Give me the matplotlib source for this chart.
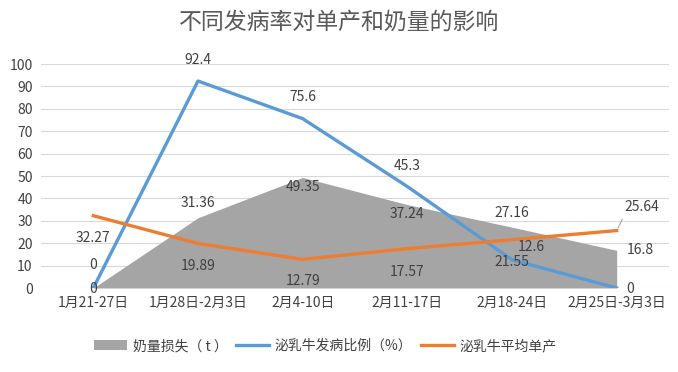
import matplotlib
matplotlib.use("Agg")
import matplotlib.pyplot as plt

plt.rcParams['font.family'] = ['Noto Sans CJK SC', 'DejaVu Sans']

categories = ["1月21-27日", "1月28日-2月3日", "2月4-10日", "2月11-17日", "2月18-24日", "2月25日-3月3日"]
milk_loss = [0, 31.36, 49.35, 37.24, 27.16, 16.8]
disease_rate = [0, 92.4, 75.6, 45.3, 12.6, 0]
avg_yield = [32.27, 19.89, 12.79, 17.57, 21.55, 25.64]
yticks = [0, 10, 20, 30, 40, 50, 60, 70, 80, 90, 100]

# label offsets in pixels (dx, dy)
loss_off = [(0, -1), (0, 15), (0, -10), (0, -9), (0, 14), (10, 0)]
rate_off = [(0, 23), (0, 21), (0, 22), (0, 21), (6, 13), (10, -1)]
yield_off = [(0, -22), (0, -23), (0, -22), (0, -23), (0, -22), (8, 24)]

GRAY = '#a5a5a5'
BLUE = '#5b9bd5'
ORANGE = '#ed7d31'
TXT = '#404040'

fig = plt.figure(figsize=(6.78, 3.72), dpi=100)
ax = fig.add_axes([41/678, 84/372, 628/678, 224/372])
x = list(range(len(categories)))

ax.fill_between(x, milk_loss, color=GRAY, lw=0, zorder=2, label='奶量损失（ t ）')
ax.plot(x, disease_rate, color=BLUE, lw=2.4, zorder=3, label='泌乳牛发病比例（%）', solid_joinstyle='round')
ax.plot(x, avg_yield, color=ORANGE, lw=2.4, zorder=4, label='泌乳牛平均单产', solid_joinstyle='round')

ax.set_xlim(-0.5, 5.5)
ax.set_ylim(0, 100)
ax.set_yticks(yticks)
ax.set_xticks(x)
ax.set_xticklabels(categories)
ax.tick_params(axis='both', length=0, labelsize=10, labelcolor=TXT)
ax.tick_params(axis='y', pad=6)
ax.tick_params(axis='x', pad=6)
for s in ax.spines.values():
    s.set_visible(False)
ax.grid(axis='y', color='#d9d9d9', lw=0.8, zorder=0)
ax.set_axisbelow(True)

def lab(vals, offs):
    for i, (v, (dx, dy)) in enumerate(zip(vals, offs)):
        ha = 'left' if dx > 3 else 'center'
        ax.annotate(f"{v:g}", (i, v), xytext=(dx if ha == 'left' else 0, dy),
                    textcoords='offset pixels', ha=ha, va='center',
                    fontsize=10, color=TXT, zorder=6)

lab(milk_loss, loss_off)
lab(disease_rate, rate_off)
lab(avg_yield, yield_off)
# leader line for last orange label
ax.annotate("", (5, avg_yield[5]), xytext=(7, 14), textcoords='offset pixels',
            arrowprops=dict(arrowstyle='-', color='#a0a0a0', lw=0.7))

fig.text(0.5, 1 - 22/372, '不同发病率对单产和奶量的影响', ha='center', va='center',
         fontsize=16.5, color='#595959')

leg = fig.legend(loc='center', bbox_to_anchor=(0.48, 26/372), ncol=3, frameon=False,
                 fontsize=10, handlelength=2.4, handleheight=0.8, columnspacing=0.6,
                 handletextpad=0.4)
for t in leg.get_texts():
    t.set_color(TXT)

fig.savefig('out.png', dpi=100)
